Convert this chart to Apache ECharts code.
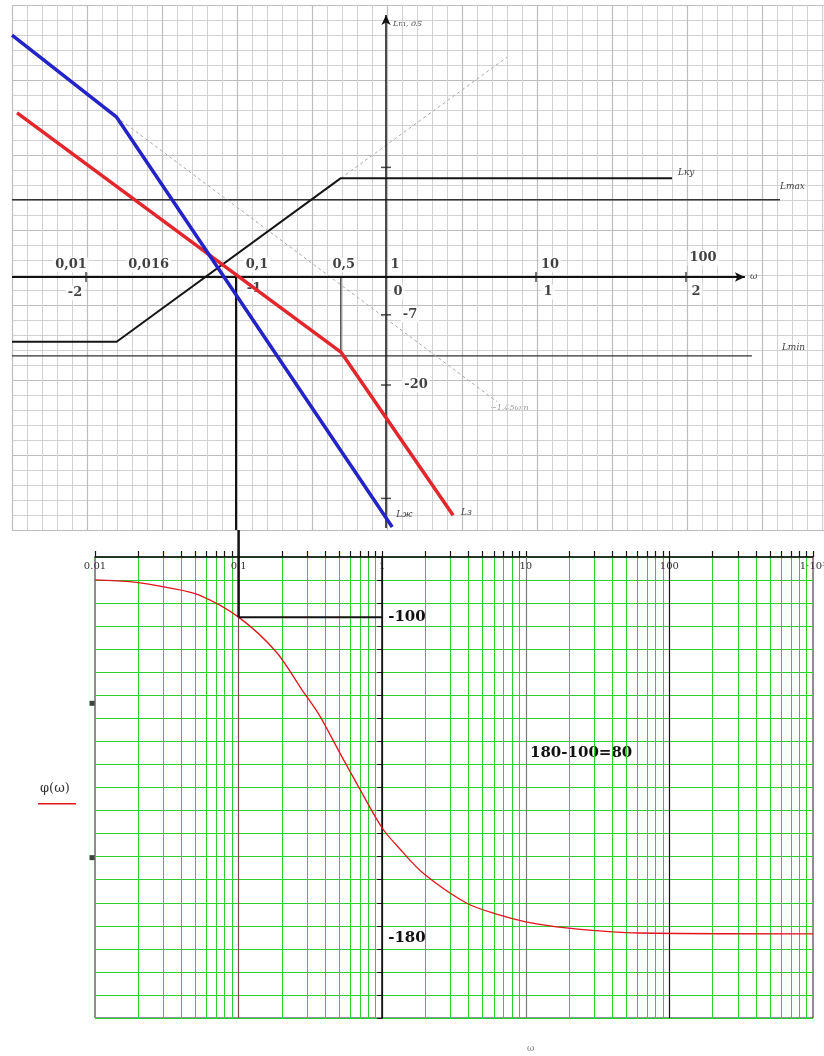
<!DOCTYPE html>
<html>
<head>
<meta charset="utf-8">
<script src="https://cdn.jsdelivr.net/npm/echarts@6/dist/echarts.min.js"></script>
<style>
  html, body { margin: 0; padding: 0; background: #fff; }
  #chart { width: 824px; height: 1056px; }
</style>
</head>
<body>
<div id="chart"></div>
<script>
// ---- Log-magnitude plot: ω in rad/s, L in dB ----
const desiredW = [0.00321, 0.016, 1.1];          // Lж
const desiredL = [44.8, 29.6, -46.3];
const initialW = [0.00347, 0.5, 2.8];            // Lз
const initialL = [30.4, -13.9, -44.1];
const corrW = [0.00321, 0.016, 0.5, 80.7];       // Lку
const corrL = [-12.0, -12.0, 18.3, 18.3];
const corrExtW = [0.5, 6.41];                    // continuation of the +20 dB/dec slope
const corrExtL = [18.3, 40.7];
const desiredExtW = [0.016, 5.5];                // continuation of the -20 dB/dec slope
const desiredExtL = [29.6, -23.1];
const lMaxW = [0.00321, 423];
const lMaxL = [14.3, 14.3];
const lMinW = [0.00321, 275];
const lMinL = [-14.6, -14.6];
const crossW = 0.1;                              // ω used for the phase reading
const breakW = 0.5;
const breakL = -13.9;

const freqMarks = [0.01, 0.016, 0.1, 0.5, 1, 10, 100];
const freqText = ['0,01', '0,016', '0,1', '0,5', '1', '10', '100'];
const lgMarks = [0.01, 0.1, 1, 10, 100];
const lgText = ['-2', '-1', '0', '1', '2'];
const dbMarks = [-7, -20];
const dbText = ['-7', '-20'];
const dbTickMarks = [20.3, -7, -20, -41];
const freqTickMarks = [0.01, 10, 100];

// ---- Phase plot ----
const phaseW = [0.01, 0.0182, 0.0329, 0.0532, 0.1, 0.183, 0.277, 0.364, 0.502, 0.691,
                1, 1.31, 1.96, 3.85, 6.53, 10, 19.1, 61.6, 1000];
const phaseDeg = [-90.7, -91.2, -92.7, -94.5, -100, -108.7, -118.2, -124.4, -133.6, -142.6,
                  -152.6, -157.6, -164.1, -171.3, -174.3, -176.0, -177.5, -178.8, -179.0];
const phaseDecades = [0.01, 0.1, 1, 10, 100, 1000];
const phaseDecadeText = ['0.01', '0.1', '1', '10', '100', '1·10³'];
const phaseMarks = [-100, -180];
const phaseRead = -100;
const sideMarks = [-121.5, -160];

// ---- layout ----
const TOP = { left: 12, top: 5, width: 812, height: 525 };
const BOT = { left: 95, top: 557, width: 718, height: 461 };
const topWMin = 0.00321, topWMax = 832;
const topLMin = -46.85, topLMax = 50.37;
const phMin = -200, phMax = -85, phStep = 5.75;

const pts = (ws, ls) => ws.map((w, i) => [w, ls[i]]);
const minorW = phaseDecades.slice(0, -1)
  .flatMap(d => [1, 2, 3, 4, 5, 6, 7, 8, 9].map(k => +(d * k).toPrecision(3)))
  .concat([1000]);

// label placement (pixels, relative to the marked point)
const freqShift = [[-15, -12], [32, -12], [21, -12], [3, -12], [9, -12], [14, -12], [17, -19]];
const lgShift = [[-11, 16], [18, 12], [12, 15], [12, 15], [10, 15]];
const dbShift = [[24, 0], [30, 0]];
const decadeColor = ['#7a4a4a', '#111', '#7a7a7a', '#111'];

const handFont = { fontFamily: 'DejaVu Serif', fontStyle: 'italic', fontSize: 9, color: '#444' };
const boldSerif = { fontFamily: 'DejaVu Serif', fontWeight: 'bold', fontSize: 13, color: '#111' };

const chart = echarts.init(document.getElementById('chart'), null, { renderer: 'canvas' });

const hidden = { axisLine: { show: false }, axisTick: { show: false }, axisLabel: { show: false }, splitLine: { show: false } };
const paperMajor = { show: true, lineStyle: { color: '#bdbdbd', width: 1.2 } };
const paperMinor = { show: true, lineStyle: { color: '#d2d2d2', width: 1 } };

const option = {
  animation: false,
  backgroundColor: '#fff',
  grid: [
    { left: TOP.left, top: TOP.top, width: TOP.width, height: TOP.height,
      containLabel: false, outerBoundsMode: 'none' },
    { left: BOT.left, top: BOT.top, width: BOT.width, height: BOT.height,
      containLabel: false, outerBoundsMode: 'none',
      show: true, borderColor: '#222', borderWidth: 1 }
  ],
  xAxis: [
    Object.assign({ type: 'log', logBase: 10, gridIndex: 0, min: topWMin, max: topWMax }, hidden),
    { type: 'value', gridIndex: 0, min: 0, max: 812, interval: 75,
      axisLine: { show: false }, axisTick: { show: false }, axisLabel: { show: false },
      minorTick: { show: false, splitNumber: 5 },
      splitLine: paperMajor, minorSplitLine: paperMinor },
    { type: 'log', logBase: 10, gridIndex: 1, position: 'top', min: 0.01, max: 1000,
      axisLine: { show: true, lineStyle: { color: '#111', width: 1.5 } },
      axisTick: { show: true, customValues: minorW, length: 6, inside: false, lineStyle: { color: '#111', width: 1.2 } },
      axisLabel: { show: true, customValues: phaseDecades, inside: true, margin: 4,
        fontFamily: 'DejaVu Serif', fontSize: 10, color: '#333',
        formatter: v => phaseDecadeText[Math.round(Math.log10(v)) + 2] },
      splitLine: { show: true, lineStyle: { color: '#2fcf2f', width: 1 } } }
  ],
  yAxis: [
    Object.assign({ type: 'value', gridIndex: 0, min: topLMin, max: topLMax }, hidden),
    { type: 'value', gridIndex: 0, min: 0, max: 525, interval: 75, inverse: true,
      axisLine: { show: false }, axisTick: { show: false }, axisLabel: { show: false },
      minorTick: { show: false, splitNumber: 5 },
      splitLine: paperMajor, minorSplitLine: paperMinor },
    { type: 'value', gridIndex: 1, min: phMin, max: phMax, interval: phStep,
      position: 'left', offset: -(BOT.width * 2 / 5),
      axisLine: { show: true, onZero: false, lineStyle: { color: '#111', width: 1.5 } },
      axisTick: { show: true, length: 5, lineStyle: { color: '#111' } },
      axisLabel: { show: true, customValues: phaseMarks, inside: true, margin: 6,
        fontFamily: 'DejaVu Serif', fontWeight: 'bold', fontSize: 15, color: '#111' },
      splitLine: { show: true, lineStyle: { color: '#2fcf2f', width: 1 } } }
  ],
  series: [
    // boundary levels
    { type: 'line', xAxisIndex: 0, yAxisIndex: 0, data: pts(lMaxW, lMaxL), symbol: 'none',
      lineStyle: { color: '#333', width: 1.5 },
      endLabel: { show: true, formatter: 'Lmax', offset: [-8, -13], ...handFont } },
    { type: 'line', xAxisIndex: 0, yAxisIndex: 0, data: pts(lMinW, lMinL), symbol: 'none',
      lineStyle: { color: '#333', width: 1.3 },
      endLabel: { show: true, formatter: 'Lmin', offset: [22, -8], ...handFont } },
    // faint continuations
    { type: 'line', xAxisIndex: 0, yAxisIndex: 0, data: pts(corrExtW, corrExtL), symbol: 'none',
      lineStyle: { color: '#a9a9a9', width: 1, type: [3, 3] } },
    { type: 'line', xAxisIndex: 0, yAxisIndex: 0, data: pts(desiredExtW, desiredExtL), symbol: 'none',
      lineStyle: { color: '#a9a9a9', width: 1, type: [3, 3] } },
    // tick labels of the magnitude plot (beneath the curves)
    { type: 'scatter', xAxisIndex: 0, yAxisIndex: 0, symbolSize: 1, itemStyle: { color: 'transparent' }, z: 2.5,
      label: { show: true, position: 'inside', formatter: p => p.name, ...boldSerif,
               backgroundColor: '#fff', padding: [1, 2] },
      data: freqMarks.map((w, i) => ({ name: freqText[i], value: [w, 0], label: { offset: freqShift[i] } }))
        .concat(lgMarks.map((w, i) => ({ name: lgText[i], value: [w, 0], label: { offset: lgShift[i] } })))
        .concat(dbMarks.map((v, i) => ({ name: dbText[i], value: [1, v], label: { offset: dbShift[i] } }))) },
    // correcting device
    { type: 'line', xAxisIndex: 0, yAxisIndex: 0, data: pts(corrW, corrL), symbol: 'none',
      lineStyle: { color: '#151515', width: 2 }, z: 4,
      endLabel: { show: true, formatter: 'Lку', offset: [-2, -6], ...handFont } },
    // projection lines
    { type: 'line', xAxisIndex: 0, yAxisIndex: 0, data: [[crossW, 0], [crossW, topLMin]], symbol: 'none',
      lineStyle: { color: '#111', width: 2 }, z: 3 },
    { type: 'line', xAxisIndex: 0, yAxisIndex: 0, data: [[breakW, 0], [breakW, breakL]], symbol: 'none',
      lineStyle: { color: '#222', width: 1.2 }, z: 3 },
    // initial system
    { type: 'line', xAxisIndex: 0, yAxisIndex: 0, data: pts(initialW, initialL), symbol: 'none',
      lineStyle: { color: '#e3262b', width: 3.5 }, z: 5,
      endLabel: { show: true, formatter: 'Lз', offset: [0, -2], ...handFont } },
    // desired characteristic
    { type: 'line', xAxisIndex: 0, yAxisIndex: 0, data: pts(desiredW, desiredL), symbol: 'none',
      lineStyle: { color: '#2323c8', width: 3.5 }, z: 6,
      endLabel: { show: true, formatter: 'Lж', offset: [-4, -12], ...handFont } },
    // coordinate axes of the magnitude plot
    { type: 'line', xAxisIndex: 0, yAxisIndex: 0, data: [], z: 7,
      markLine: { silent: true, symbol: ['none', 'arrow'], symbolSize: [7, 10], animation: false,
        label: { show: false },
        data: [
          [{ coord: [topWMin, 0], lineStyle: { color: '#111', width: 2, type: 'solid' },
             label: { show: true, position: 'end', formatter: 'ω', ...handFont } },
           { coord: [247, 0] }],
          [{ coord: [1, -46.5], lineStyle: { color: '#111', width: 1.5, type: 'solid' } },
           { coord: [1, 48.5] }]
        ] } },
    // axis tick marks
    { type: 'scatter', xAxisIndex: 0, yAxisIndex: 0, symbol: 'rect', symbolSize: [10, 1.5],
      itemStyle: { color: '#222' }, data: dbTickMarks.map(v => [1, v]), z: 8 },
    { type: 'scatter', xAxisIndex: 0, yAxisIndex: 0, symbol: 'rect', symbolSize: [1.5, 10],
      itemStyle: { color: '#222' }, data: freqTickMarks.map(w => [w, 0]), z: 8 },

    // ---- phase plot ----
    { type: 'line', xAxisIndex: 2, yAxisIndex: 2, data: [], z: 3,
      markLine: { silent: true, symbol: ['none', 'none'], animation: false, label: { show: false },
        data: phaseDecades.slice(1, 5).map((d, i) => ({ xAxis: d, lineStyle: { color: decadeColor[i], width: 1.2, type: 'solid' } })) } },
    { type: 'line', xAxisIndex: 2, yAxisIndex: 2, data: pts(phaseW, phaseDeg), symbol: 'none', smooth: 0.3,
      lineStyle: { color: '#e0141a', width: 1.3 }, z: 6 },
    { type: 'line', xAxisIndex: 2, yAxisIndex: 2, clip: false, symbol: 'none',
      data: [[crossW, phaseRead], [crossW, phMax + (BOT.top - TOP.top - TOP.height) * (phMax - phMin) / BOT.height]],
      lineStyle: { color: '#111', width: 2.5 }, z: 7 },
    { type: 'line', xAxisIndex: 2, yAxisIndex: 2, symbol: 'none',
      data: [[crossW, phaseRead], [1, phaseRead]],
      lineStyle: { color: '#111', width: 2 }, z: 7 },
    { type: 'scatter', xAxisIndex: 2, yAxisIndex: 2, symbol: 'rect', symbolSize: 5, symbolOffset: [-3, 0],
      clip: false, itemStyle: { color: '#111' }, data: sideMarks.map(v => [0.01, v]), z: 7 }
  ],
  graphic: [
    { type: 'text', x: 393, y: 20, style: { text: 'Lm, дБ', font: 'italic 8px "DejaVu Serif"', fill: '#555' } },
    { type: 'text', x: 490, y: 404, style: { text: '−1,45ωm', font: 'italic 8px "DejaVu Serif"', fill: '#9a9a9a' } },
    { type: 'text', x: 530, y: 746, style: { text: '180-100=80', font: 'bold 15px "DejaVu Serif"', fill: '#111' } },
    { type: 'text', x: 40, y: 782, style: { text: 'φ(ω)', font: '13px "DejaVu Serif"', fill: '#333' } },
    { type: 'rect', shape: { x: 38, y: 803, width: 38, height: 1.5 }, style: { fill: '#e0141a' } },
    { type: 'text', x: 527, y: 1044, style: { text: 'ω', font: '9px "DejaVu Serif"', fill: '#777' } }
  ]
};

chart.setOption(option);
</script>
</body>
</html>
